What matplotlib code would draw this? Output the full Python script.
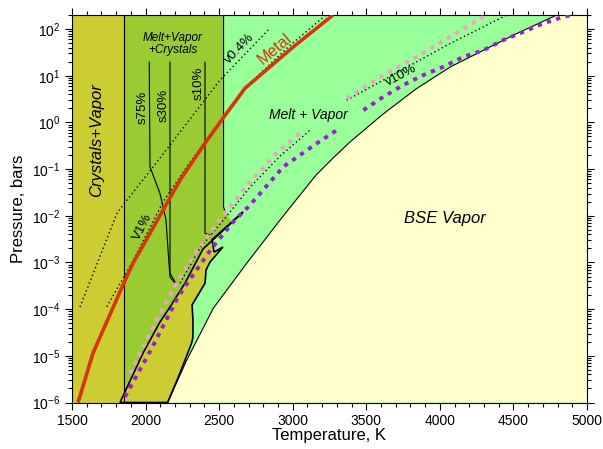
import matplotlib
matplotlib.use("Agg")
import matplotlib.pyplot as plt
from matplotlib.ticker import LogLocator, MultipleLocator, LogFormatterMathtext

plt.rcParams['font.family'] = ['Liberation Sans', 'DejaVu Sans']
plt.rcParams['mathtext.fontset'] = 'custom'
plt.rcParams['mathtext.rm'] = 'Liberation Sans'
plt.rcParams['mathtext.it'] = 'Liberation Sans:italic'

# ---------------- data (Temperature K, Pressure bar) ----------------
metal_T = [1541, 1643, 1840, 1915, 2234, 2404, 2526, 2676, 3002, 3274]
metal_P = [1e-6, 1.15e-5, 2.97e-4, 9.7e-4, 5.8e-2, 0.36, 1.23, 5.4, 41, 200]

bse_T = [2150, 2280, 2460, 2687, 2914, 3022, 3158, 3274, 3389, 3614, 3838, 4069, 4295, 4522, 4794]
bse_P = [1e-6, 8.1e-6, 1.04e-4, 9.6e-4, 8.1e-3, 2.17e-2, 7.4e-2, 0.172, 0.38, 1.51, 5.2, 15.3, 35, 80, 200]

v04_T = [1554, 1806, 1847, 2050, 2506, 2846]
v04_P = [1.11e-4, 1.14e-2, 1.7e-2, 0.11, 8.05, 105]

v1_T = [1736, 1906, 2120, 2280, 2574, 2710, 2982, 3226]
v1_P = [1.12e-4, 9.6e-4, 2.0e-2, 0.112, 2.0, 6.9, 45, 200]

v10_low_T = [2234, 2370, 2540, 2710, 2914, 3117]
v10_low_P = [3.6e-4, 2.04e-3, 8.9e-3, 4.1e-2, 0.19, 0.68]
v10_up_T = [3367, 3843, 4069, 4295, 4454]
v10_up_P = [3.0, 19.9, 49, 111, 200]

pink_low_T = [1894, 1962, 2076, 2178, 2256, 2347, 2438, 2528, 2630, 2710, 2891, 3061]
pink_low_P = [4.2e-6, 1.13e-5, 5.9e-5, 2.36e-4, 6.3e-4, 1.7e-3, 4.2e-3, 1.04e-2, 2.55e-2, 5.3e-2, 0.22, 0.63]
pink_up_T = [3367, 3616, 3843, 4069, 4295]
pink_up_P = [3.27, 10.3, 25.4, 68, 183]

purple_low_T = [1860, 2030, 2222, 2313, 2449, 2596, 2710, 2936, 3163, 3299]
purple_low_P = [1.33e-6, 1.23e-5, 1.85e-4, 4.9e-4, 2.0e-3, 7.4e-3, 1.7e-2, 0.112, 0.355, 0.68]
purple_up_T = [3480, 3616, 3751, 3887, 4023, 4159, 4295, 4431, 4567, 4703, 4839, 4896]
purple_up_P = [1.83, 3.53, 6.3, 10.3, 15.5, 25.4, 35, 58, 87, 132, 183, 200]

s75_T = [2025, 2030, 2098, 2139, 2154, 2166, 2200]
s75_P = [19.5, 0.112, 0.030, 8.1e-3, 1.6e-3, 4.9e-4, 3.6e-4]
s30_T = [2166, 2166, 2200]
s30_P = [19.5, 5.9e-4, 3.8e-4]
s10_T = [2404, 2404, 2438]
s10_P = [19.5, 4.2e-3, 3.9e-3]

solidus_T = 1850           # crystals+vapor / melt+vapor+crystals boundary
liq_T = [2530, 2530, 2540]  # melt+vapor+crystals / melt+vapor boundary
liq_P = [200, 1.55e-2, 1.23e-2]

# lower-left boundary of the crystal+vapor wedge (bottom -> sliver tip)
wedge_left_T = [1826, 1983, 2098, 2166, 2268, 2390, 2662]
wedge_left_P = [1e-6, 1.15e-5, 5.3e-5, 1.11e-4, 3.6e-4, 1.94e-3, 1.2e-2]
# return edge of the wedge (tip -> bottom)
wedge_right_T = [2452, 2465, 2526, 2438, 2411, 2404, 2316, 2322, 2322, 2313, 2234, 2150]
wedge_right_P = [3.1e-3, 1.67e-3, 2.14e-3, 1.02e-3, 6.9e-4, 3.6e-4, 1.23e-4, 5.9e-5, 2.5e-5, 1.87e-5, 4.3e-6, 1e-6]
# corner where the melt+vapor+crystals field meets the wedge
mvc_corner_T = [2587]
mvc_corner_P = [7.3e-3]

TMIN, TMAX, PMIN, PMAX = 1500, 5000, 1e-6, 200

# ---------------- figure ----------------
W, H = 603, 449
fig = plt.figure(figsize=(W / 100, H / 100), dpi=100)
ax = fig.add_axes([72 / W, 1 - 402.5 / H, 515 / W, (402.5 - 15) / H])
ax.set_yscale('log')
ax.set_xlim(TMIN, TMAX)
ax.set_ylim(PMIN, PMAX)

C_MV = '#99FF99'
C_BSE = '#FFFFCC'
C_MVC = '#99CC33'
C_CV = '#CCCC33'

ax.set_facecolor(C_MV)
# BSE vapor field
ax.fill(bse_T + [TMAX, TMAX], bse_P + [PMAX, PMIN], color=C_BSE, lw=0, zorder=1)
ax.plot(bse_T, bse_P, color='black', lw=0.8, zorder=3)

# Melt + Vapor + Crystals field
left_rev_T = wedge_left_T[:-1][::-1]
left_rev_P = wedge_left_P[:-1][::-1]
mvc_T = [solidus_T] + liq_T + mvc_corner_T + left_rev_T[:-1] + [solidus_T]
mvc_P = [PMAX] + liq_P + mvc_corner_P + left_rev_P[:-1] + [1.45e-6]
ax.fill(mvc_T, mvc_P, color=C_MVC, lw=0, zorder=1.5)
ax.plot(liq_T, liq_P, color='black', lw=0.8, zorder=3)

# Crystals + Vapor field (left band)
ax.fill([TMIN, solidus_T, solidus_T, TMIN], [PMIN, PMIN, PMAX, PMAX], color=C_CV, lw=0, zorder=1.6)
ax.plot([solidus_T, solidus_T], [PMIN, PMAX], color='black', lw=0.8, zorder=3)
# Crystals + Vapor wedge
ax.fill(wedge_left_T + wedge_right_T, wedge_left_P + wedge_right_P, facecolor=C_CV,
        edgecolor='black', lw=1.2, zorder=1.7)

# saturation lines
for tt, pp in [(s75_T, s75_P), (s30_T, s30_P), (s10_T, s10_P)]:
    ax.plot(tt, pp, color='black', lw=0.8, zorder=3)

# vapor-fraction dotted lines
dot = (0, (1, 2))
for tt, pp in [(v04_T, v04_P), (v1_T, v1_P), (v10_low_T, v10_low_P), (v10_up_T, v10_up_P)]:
    ax.plot(tt, pp, color='black', lw=1.0, linestyle=dot, zorder=4)

# pink & purple dashed curves
dash = (0, (1.1, 1.4))
for tt, pp in [(pink_low_T, pink_low_P), (pink_up_T, pink_up_P)]:
    ax.plot(tt, pp, color='#F2A0C8', lw=2.8, linestyle=dash, zorder=5)
for tt, pp in [(purple_low_T, purple_low_P), (purple_up_T, purple_up_P)]:
    ax.plot(tt, pp, color='#9A1FD0', lw=2.8, linestyle=dash, zorder=5)

# metal
ax.plot(metal_T, metal_P, color='#D8340C', lw=2.6, zorder=6, solid_capstyle='butt')

# ---------------- labels ----------------
ax.text(1670, 10**-0.38, 'Crystals+Vapor', rotation=90, style='italic', fontsize=12,
        ha='center', va='center', zorder=7)
ax.text(2186, 10**1.68, 'Melt+Vapor\n+Crystals', style='italic', fontsize=8.5,
        ha='center', va='center', linespacing=1.0, zorder=7)
ax.text(1983, 10**0.33, 's75%', rotation=90, fontsize=9.5, ha='center', va='center', zorder=7)
ax.text(2120, 10**0.37, 's30%', rotation=90, fontsize=9.5, ha='center', va='center', zorder=7)
ax.text(2358, 10**0.835, 's10%', rotation=90, fontsize=9.5, ha='center', va='center', zorder=7)
ax.text(2642, 10**1.585, 'v0.4%', rotation=46, fontsize=9.5, ha='center', va='center', zorder=7)
ax.text(2880, 10**1.57, 'Metal', rotation=40, fontsize=11.5, color='#D8340C',
        ha='center', va='center', zorder=7)
ax.text(1983, 10**-2.24, 'V1%', rotation=63, fontsize=9.5, ha='center', va='center', zorder=7)
ax.text(3106, 10**0.16, 'Melt + Vapor', style='italic', fontsize=10, ha='center', va='center', zorder=7)
ax.text(3741, 10**1.01, 'v10%', rotation=28, fontsize=9.5, ha='center', va='center', zorder=7)
ax.text(4034, 10**-2.05, 'BSE Vapor', style='italic', fontsize=12, ha='center', va='center', zorder=7)

# ---------------- axes styling ----------------
ax.xaxis.set_major_locator(MultipleLocator(500))
ax.xaxis.set_minor_locator(MultipleLocator(100))
ax.yaxis.set_major_locator(LogLocator(base=10, numticks=20))
ax.yaxis.set_minor_locator(LogLocator(base=10, subs=range(2, 10), numticks=20))
ax.yaxis.set_major_formatter(LogFormatterMathtext())
ax.tick_params(which='both', direction='out', top=True, right=True, labelsize=10, width=0.8)
ax.tick_params(which='major', length=5)
ax.tick_params(which='minor', length=3)
for s in ax.spines.values():
    s.set_linewidth(0.8)
ax.set_xlabel('Temperature, K', fontsize=12, labelpad=0)
ax.set_ylabel('Pressure, bars', fontsize=12, labelpad=4)

fig.savefig('out.png', dpi=100)
